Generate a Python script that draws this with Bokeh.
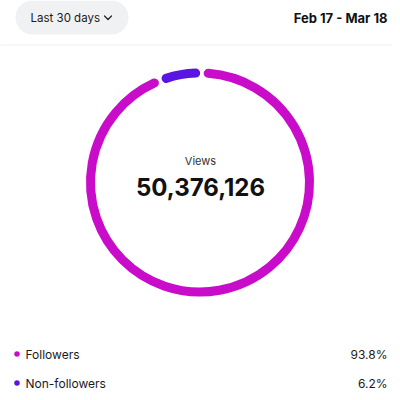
from bokeh.plotting import figure
from bokeh.models import Range1d
from bokeh.embed import file_html
from bokeh.resources import INLINE
from bokeh.core.properties import value
import math

# ---- data ----
categories = ["Followers", "Non-followers"]
shares = [93.8, 6.2]
pct_labels = ["93.8%", "6.2%"]
colors = ["#C80CC9", "#5A14E3"]
total_label = "Views"
total_value = "50,376,126"
period_label = "Last 30 days"
date_range = "Feb 17 - Mar 18"

FONT = "Inter"
W = H = 392

def Y(py):
    return H - py

p = figure(width=W, height=H, output_backend="svg", toolbar_location=None,
           x_range=Range1d(0, W), y_range=Range1d(0, H), min_border=0)
p.axis.visible = False
p.grid.visible = False
p.outline_line_color = None
p.background_fill_color = "white"
p.border_fill_color = "white"

# header pill
p.line(x=[32, 111], y=[Y(17), Y(17)], line_width=34, line_cap="round", line_color="#F0F1F3")
p.text(x=[30], y=[Y(17.5)], text=[period_label], text_font=value(FONT), text_font_size="11.5px",
       text_color="#1a1a1a", text_align="left", text_baseline="middle")
p.line(x=[104, 107.5, 111], y=[Y(15.5), Y(19), Y(15.5)], line_width=1.2, line_color="#222222",
       line_join="round", line_cap="round")
p.text(x=[387], y=[Y(17.5)], text=[date_range], text_font=value(FONT), text_font_size="13px",
       text_font_style="bold", text_color="#111111", text_align="right", text_baseline="middle")
# divider
p.line(x=[0, W], y=[Y(44.5), Y(44.5)], line_width=1, line_color="#EEEEEE")

# ring
cx, cy = 199.5, Y(182)
r_mid = 109.5
thick = 9
gap_px = 3.5
inset = math.degrees((gap_px / 2 + thick / 2) / r_mid)
a0 = 89.0
# non-followers anticlockwise from top, followers the rest
order = [1, 0]
start = a0
for i in order:
    span = shares[i] / sum(shares) * 360.0
    s = start + inset
    e = start + span - inset
    p.arc(x=[cx], y=[cy], radius=r_mid, start_angle=math.radians(s), end_angle=math.radians(e),
          direction="anticlock", line_width=thick, line_color=colors[i], line_cap="round")
    start += span

p.text(x=[cx + 0.5], y=[Y(160.5)], text=[total_label], text_font=value(FONT), text_font_size="11px",
       text_color="#333333", text_align="center", text_baseline="middle")
p.text(x=[cx + 0.5], y=[Y(186)], text=[total_value], text_font=value(FONT), text_font_size="24px",
       text_font_style="bold", text_color="#111111", text_align="center", text_baseline="middle")

# legend
rows = [Y(353.5), Y(382.5)]
p.scatter(x=[16.5] * 2, y=rows, size=5.5, marker="circle", fill_color=colors, line_color=None)
p.text(x=[25] * 2, y=rows, text=categories, text_font=value(FONT), text_font_size="12px",
       text_color="#1a1a1a", text_align="left", text_baseline="middle")
p.text(x=[387] * 2, y=rows, text=pct_labels, text_font=value(FONT), text_font_size="12px",
       text_color="#1a1a1a", text_align="right", text_baseline="middle")

open("out.html", "w").write(file_html(p, INLINE))
